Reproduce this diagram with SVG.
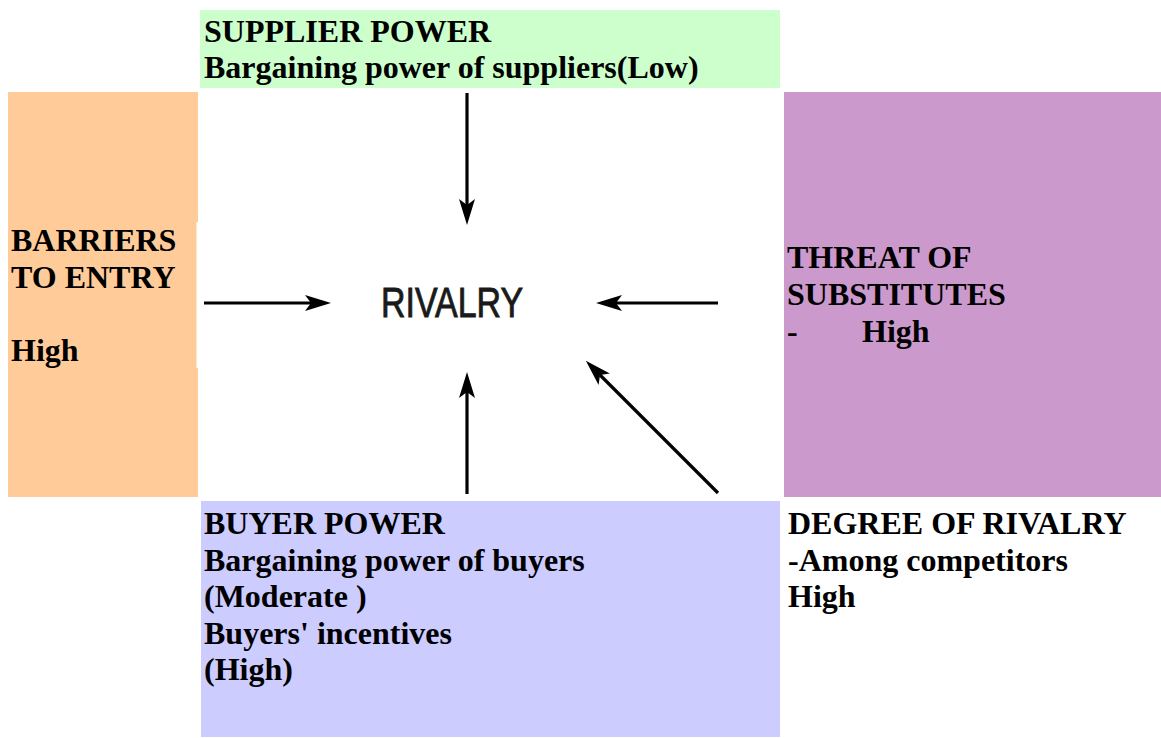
<svg xmlns="http://www.w3.org/2000/svg" width="1161" height="738" viewBox="0 0 1161 738">
<style>
.t{font-family:"Liberation Serif","Times New Roman",serif;font-weight:bold;font-size:32px;fill:#000}
.r{font-family:"Liberation Sans",Arial,sans-serif;font-size:43px;fill:#1a1a1a;stroke:#1a1a1a;stroke-width:0.9}
.c{stroke:#000;stroke-width:3.2;fill:none}
</style>
<defs>
<marker id="ah" markerUnits="userSpaceOnUse" markerWidth="26" markerHeight="16" refX="6" refY="8" orient="auto">
<path d="M0,0 L26,8 L0,16 L6,8 z" fill="#000"/>
</marker>
</defs>
<rect width="1161" height="738" fill="#fff"/>
<g id="supplier">
<rect x="200" y="10" width="580" height="78" fill="#CCFFCC"/>
<text class="t" x="204" y="42">SUPPLIER POWER</text>
<text class="t" x="204" y="78">Bargaining power of suppliers(Low)</text>
</g>
<g id="barriers">
<rect x="8" y="92" width="190" height="405" fill="#FFCC99"/>
<rect x="196.5" y="222" width="2" height="146" fill="#fff"/>
<text class="t" x="11" y="251">BARRIERS</text>
<text class="t" x="11" y="288">TO ENTRY</text>
<text class="t" x="11" y="361">High</text>
</g>
<g id="substitutes">
<rect x="784" y="92" width="377" height="405" fill="#CC99CC"/>
<text class="t" x="787" y="268">THREAT OF</text>
<text class="t" x="787" y="305">SUBSTITUTES</text>
<text class="t" x="787" y="342">-</text>
<text class="t" x="862" y="342">High</text>
</g>
<g id="buyer">
<rect x="201" y="501" width="579" height="236" fill="#CCCCFF"/>
<text class="t" x="204" y="534">BUYER POWER</text>
<text class="t" x="204" y="570.5">Bargaining power of buyers</text>
<text class="t" x="204" y="607">(Moderate )</text>
<text class="t" x="204" y="643.5">Buyers' incentives</text>
<text class="t" x="204" y="680">(High)</text>
</g>
<g id="degree">
<text class="t" x="788" y="534">DEGREE OF RIVALRY</text>
<text class="t" x="788" y="570.5">-Among competitors</text>
<text class="t" x="788" y="607">High</text>
</g>
<g id="rivalry">
<text class="r" x="381" y="317" textLength="142" lengthAdjust="spacingAndGlyphs">RIVALRY</text>
</g>
<g id="connectors">
<line class="c" x1="467" y1="93" x2="467" y2="205" marker-end="url(#ah)"/>
<line class="c" x1="204" y1="303" x2="311" y2="303" marker-end="url(#ah)"/>
<line class="c" x1="718" y1="303" x2="616" y2="303" marker-end="url(#ah)"/>
<line class="c" x1="467" y1="494" x2="467" y2="392" marker-end="url(#ah)"/>
<line class="c" x1="718" y1="493" x2="600" y2="375" marker-end="url(#ah)"/>
</g>
</svg>
